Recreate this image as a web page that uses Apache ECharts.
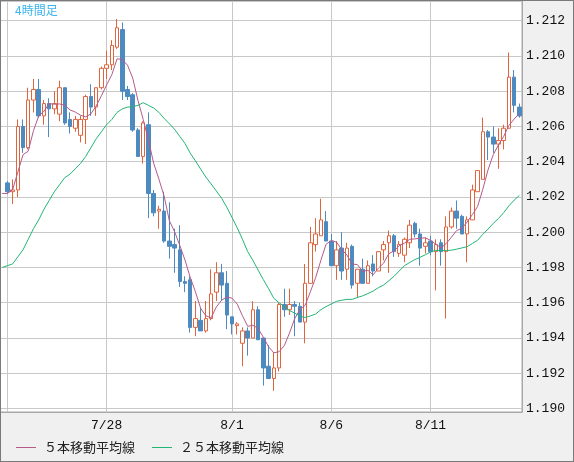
<!DOCTYPE html>
<html>
<head>
<meta charset="utf-8">
<script src="https://cdn.jsdelivr.net/npm/echarts@6/dist/echarts.min.js"></script>
<style>
html, body { margin: 0; padding: 0; background: #fff; }
#chart { width: 572px; height: 460px; border: 1px solid #7a7a7a; }
</style>
</head>
<body>
<div id="chart"></div>
<script>
// 4時間足 candles, oldest first
var opens = [
	1.2028, 1.2023, 1.2024, 1.2060, 1.2048, 1.2075, 1.2081, 1.2066, 1.2073, 1.2070,
	1.2067, 1.2082, 1.2064, 1.2059, 1.2055, 1.2064, 1.2077, 1.2071, 1.2082, 1.2093,
	1.2095, 1.2105, 1.2115, 1.2081, 1.2078, 1.2058, 1.2043, 1.2061, 1.2022, 1.2012,
	1.2012, 1.1995, 1.1993, 1.1990, 1.1972, 1.1973, 1.1946, 1.1950, 1.1944, 1.1951,
	1.1966, 1.1977, 1.1971, 1.1952, 1.1947, 1.1937, 1.1944, 1.1940, 1.1956, 1.1940,
	1.1924, 1.1917, 1.1923, 1.1959, 1.1956, 1.1959, 1.1958, 1.1949, 1.1971, 1.1993,
	1.1998, 1.2006, 1.1995, 1.1981, 1.1991, 1.1979, 1.1992, 1.1971, 1.1979, 1.1971,
	1.1982, 1.1978, 1.1990, 1.1994, 1.1998, 1.1988, 1.1987, 1.1994, 1.2005, 1.1999,
	1.1992, 1.1995, 1.1989, 1.1994, 1.1989, 1.2003, 1.2012, 1.2009, 1.1999, 1.2007,
	1.2023, 1.2030, 1.2057, 1.2054, 1.2050, 1.2052, 1.2059, 1.2088, 1.2071
];
var highs = [
	1.2029, 1.2030, 1.2064, 1.2064, 1.2082, 1.2087, 1.2087, 1.2075, 1.2076, 1.2080,
	1.2086, 1.2082, 1.2068, 1.2066, 1.2066, 1.2078, 1.2084, 1.2082, 1.2094, 1.2103,
	1.2109, 1.2121, 1.2119, 1.2083, 1.2079, 1.2059, 1.2063, 1.2068, 1.2024, 1.2015,
	1.2023, 1.2017, 1.2002, 1.2004, 1.1975, 1.1975, 1.1961, 1.1957, 1.1961, 1.1979,
	1.1983, 1.1982, 1.1978, 1.1952, 1.1949, 1.1946, 1.1946, 1.1961, 1.1958, 1.1940,
	1.1936, 1.1932, 1.1960, 1.1968, 1.1968, 1.1961, 1.1960, 1.1982, 1.2003, 1.2008,
	1.2019, 1.2012, 1.1999, 1.1995, 1.2000, 1.1994, 1.1993, 1.1979, 1.1985, 1.1984,
	1.1987, 1.1989, 1.1995, 1.2001, 1.1999, 1.1995, 1.1997, 1.2007, 1.2006, 1.2002,
	1.1997, 1.1998, 1.1996, 1.1996, 1.2009, 1.2014, 1.2018, 1.2010, 1.2009, 1.2027,
	1.2035, 1.2065, 1.2058, 1.2060, 1.2059, 1.2061, 1.2102, 1.2092, 1.2073
];
var lows = [
	1.2022, 1.2016, 1.2020, 1.2045, 1.2047, 1.2068, 1.2065, 1.2061, 1.2054, 1.2067,
	1.2063, 1.2061, 1.2056, 1.2057, 1.2051, 1.2050, 1.2066, 1.2066, 1.2081, 1.2087,
	1.2092, 1.2104, 1.2075, 1.2075, 1.2057, 1.2043, 1.2039, 1.2008, 1.2009, 1.2002,
	1.1994, 1.1985, 1.1977, 1.1969, 1.1966, 1.1943, 1.1941, 1.1944, 1.1943, 1.1950,
	1.1961, 1.1961, 1.1945, 1.1942, 1.1942, 1.1924, 1.1930, 1.1940, 1.1939, 1.1913,
	1.1917, 1.1910, 1.1921, 1.1952, 1.1953, 1.1941, 1.1949, 1.1937, 1.1971, 1.1989,
	1.1998, 1.1995, 1.1981, 1.1973, 1.1973, 1.1973, 1.1968, 1.1963, 1.1971, 1.1971,
	1.1975, 1.1978, 1.1984, 1.1977, 1.1986, 1.1986, 1.1983, 1.1991, 1.1997, 1.1981,
	1.1988, 1.1987, 1.1967, 1.1981, 1.1951, 1.2002, 1.2002, 1.1999, 1.1983, 1.2007,
	1.2023, 1.2030, 1.2041, 1.2045, 1.2036, 1.2047, 1.2059, 1.2068, 1.2065
];
var closes = [
	1.2023, 1.2024, 1.2060, 1.2048, 1.2075, 1.2081, 1.2066, 1.2073, 1.2070, 1.2073,
	1.2082, 1.2062, 1.2060, 1.2064, 1.2064, 1.2077, 1.2071, 1.2082, 1.2093, 1.2095,
	1.2106, 1.2116, 1.2080, 1.2077, 1.2058, 1.2043, 1.2062, 1.2022, 1.2011, 1.2013,
	1.1995, 1.1992, 1.1991, 1.1972, 1.1971, 1.1946, 1.1951, 1.1944, 1.1951, 1.1965,
	1.1977, 1.1970, 1.1953, 1.1948, 1.1948, 1.1944, 1.1940, 1.1956, 1.1939, 1.1923,
	1.1917, 1.1923, 1.1959, 1.1956, 1.1959, 1.1958, 1.1949, 1.1971, 1.1994, 1.1999,
	1.2007, 1.1995, 1.1981, 1.1990, 1.1978, 1.1991, 1.1970, 1.1979, 1.1971, 1.1981,
	1.1978, 1.1989, 1.1993, 1.1998, 1.1989, 1.1993, 1.1996, 1.2004, 1.1999, 1.1991,
	1.1994, 1.1989, 1.1993, 1.1989, 1.2003, 1.2012, 1.2008, 1.1999, 1.2007, 1.2024,
	1.2035, 1.2057, 1.2054, 1.2050, 1.2052, 1.2059, 1.2088, 1.2072, 1.2066
];

// moving averages as drawn before enough visible closes exist (from the bar left of the first one)
var ma5Head = [1.2022, 1.2022, 1.2024, 1.2034, 1.2044];
var ma25Head = [
	1.1980, 1.1981, 1.1982, 1.1986, 1.1990, 1.1996, 1.2002, 1.2007, 1.2013, 1.2018,
	1.2023, 1.2027, 1.2031, 1.2033, 1.2036, 1.2039, 1.2043, 1.2048, 1.2053, 1.2057,
	1.2061, 1.2064, 1.2068, 1.2070, 1.2071
];

// first candle of each day
var dayLabels = ['7/23', '7/28', '8/1', '8/6', '8/11'];
var dayFirstCandle = [0, 19, 43, 62, 81];

var maNames = ['５本移動平均線', '２５本移動平均線'];

// slot 0 is the (hidden) bar left of the first candle
var categories = ['-'];
var candles = ['-'];
for (var i = 0; i < closes.length; i++) {
	var d = dayFirstCandle.indexOf(i);
	categories.push(d >= 0 ? dayLabels[d] : 'c' + i);
	candles.push([opens[i], closes[i], lows[i], highs[i]]);
}
var daySlots = dayFirstCandle.map(function(c) { return c + 1; });

function movingAverage(period, head) {
	var out = head.slice();
	for (var k = head.length; k <= closes.length; k++) {
		var sum = 0;
		for (var j = k - period; j < k; j++) sum += closes[j];
		out.push(+(sum / period).toFixed(5));
	}
	return out;
}
var ma5 = movingAverage(5, ma5Head);
var ma25 = movingAverage(25, ma25Head);

var chart = echarts.init(document.getElementById('chart'));
chart.setOption({
	animation: false,
	backgroundColor: '#f0f0f0',
	title: {
		text: '4時間足',
		left: 14,
		top: 3,
		padding: 0,
		textStyle: {
			color: '#3cb4ec',
			fontSize: 12,
			fontWeight: 'normal',
			fontFamily: 'Noto Sans CJK JP'
		}
	},
	legend: {
		data: maNames,
		left: 15,
		top: 440,
		padding: 0,
		icon: 'rect',
		itemWidth: 20,
		itemHeight: 1,
		itemGap: 17,
		textStyle: {
			color: '#222',
			fontSize: 13,
			fontFamily: 'Noto Sans CJK JP',
			padding: [0, 0, 0, 3]
		}
	},
	grid: {
		left: -1.5,
		right: 51,
		top: 0,
		bottom: 49,
		show: true,
		backgroundColor: '#fff',
		borderColor: '#a8a8a8',
		borderWidth: 1,
		containLabel: false,
		outerBoundsMode: 'none'
	},
	xAxis: {
		type: 'category',
		data: categories,
		boundaryGap: true,
		axisLine: { show: true, lineStyle: { color: '#a8a8a8' } },
		axisTick: { show: false },
		axisLabel: {
			margin: 7,
			color: '#111',
			fontSize: 13,
			fontFamily: 'Liberation Mono',
			interval: function(idx) { return daySlots.indexOf(idx) > 0; }
		},
		splitLine: {
			show: true,
			alignWithLabel: true,
			interval: function(idx) { return daySlots.indexOf(idx) >= 0; },
			lineStyle: { color: '#c8c8c8' }
		}
	},
	yAxis: {
		type: 'value',
		position: 'right',
		min: 1.1898,
		max: 1.21312,
		splitNumber: 12,
		axisLine: { show: true, lineStyle: { color: '#a8a8a8' } },
		axisTick: { show: false },
		axisLabel: {
			margin: 4,
			color: '#111',
			fontSize: 13,
			fontFamily: 'Liberation Mono',
			showMinLabel: false,
			showMaxLabel: false,
			formatter: function(v) { return v.toFixed(3); }
		},
		splitLine: { lineStyle: { color: '#c8c8c8' } }
	},
	series: [{
		type: 'candlestick',
		name: '4時間足',
		data: candles,
		barWidth: 4,
		itemStyle: {
			color: '#fff',
			color0: '#4d8ac0',
			borderColor: '#e0643c',
			borderColor0: '#4d8ac0',
			borderWidth: 1
		}
	}, {
		type: 'line',
		name: maNames[0],
		data: ma5,
		showSymbol: false,
		color: '#b65a8a',
		lineStyle: { width: 1, color: '#b65a8a' }
	}, {
		type: 'line',
		name: maNames[1],
		data: ma25,
		showSymbol: false,
		color: '#22b573',
		lineStyle: { width: 1, color: '#22b573' }
	}]
});
</script>
</body>
</html>
